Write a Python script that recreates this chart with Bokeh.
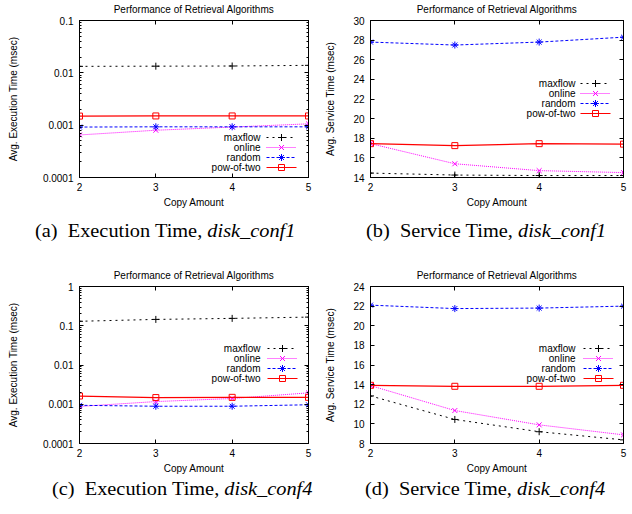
import math
from bokeh.plotting import figure
from bokeh.models import (Range1d, FixedTicker, LinearAxis, LogAxis,
                          LinearScale, Div)
from bokeh.layouts import column, row
from bokeh.core.properties import value
from bokeh.embed import file_html
from bokeh.resources import INLINE

# ---------------- data ----------------
copies = [2, 3, 4, 5]
x_ticks = [2, 3, 4, 5]
series_names = ["maxflow", "online", "random", "pow-of-two"]

# (a) execution time, disk_conf1 (msec, log scale)
exec1_maxflow = [0.0133, 0.0134, 0.0135, 0.0139]
exec1_online = [0.00065, 0.00080, 0.00092, 0.00106]
exec1_random = [0.00092, 0.00093, 0.00093, 0.00093]
exec1_pow2 = [0.00149, 0.00150, 0.00150, 0.00150]

# (b) service time, disk_conf1 (msec)
serv1_maxflow = [14.45, 14.25, 14.2, 14.2]
serv1_online = [17.45, 15.4, 14.7, 14.5]
serv1_random = [27.8, 27.5, 27.8, 28.3]
serv1_pow2 = [17.45, 17.25, 17.45, 17.4]

# (c) execution time, disk_conf4 (msec, log scale)
exec4_maxflow = [0.13, 0.145, 0.154, 0.166]
exec4_online = [0.00088, 0.00117, 0.0014, 0.00195]
exec4_random = [0.00094, 0.00089, 0.00089, 0.00097]
exec4_pow2 = [0.00162, 0.00148, 0.00150, 0.00150]

# (d) service time, disk_conf4 (msec)
serv4_maxflow = [12.85, 10.45, 9.2, 8.37]
serv4_online = [13.9, 11.36, 9.9, 8.88]
serv4_random = [22.1, 21.75, 21.8, 22.0]
serv4_pow2 = [13.93, 13.83, 13.83, 13.93]

chart_title = "Performance of Retrieval Algorithms"
x_label = "Copy Amount"
exec_label = "Avg. Execution Time (msec)"
serv_label = "Avg. Service Time (msec)"

ticks_a = [0.0001, 0.001, 0.01, 0.1]
tick_labels_a = ["0.0001", "0.001", "0.01", "0.1"]
ticks_c = [0.0001, 0.001, 0.01, 0.1, 1]
tick_labels_c = ["0.0001", "0.001", "0.01", "0.1", "1"]
ticks_b = [14, 16, 18, 20, 22, 24, 26, 28, 30]
ticks_d = [8, 10, 12, 14, 16, 18, 20, 22, 24]

caption_letters = ["a", "b", "c", "d"]
caption_kinds = ["Execution Time", "Service Time", "Execution Time", "Service Time"]
caption_confs = ["disk_conf1", "disk_conf1", "disk_conf4", "disk_conf4"]

# ---------------- styles ----------------
FONT = "Liberation Sans"
STYLE = {
    "maxflow": dict(color="#000000", dash="2 4", marker="cross", lw=1, size=7),
    "online": dict(color="#ff00ff", dash="1 1", marker="x", lw=1, size=7),
    "random": dict(color="#0000ff", dash="3 2", marker="asterisk", lw=1, size=7),
    "pow-of-two": dict(color="#ff0000", dash="solid", marker="square", lw=1.2, size=6),
}

FRAME_H = 157


def minor_log(lo_exp, hi_exp):
    out = []
    for e in range(lo_exp, hi_exp):
        for k in range(2, 10):
            out.append(k * 10.0 ** e)
    return out


def style_axis(ax, labels=True):
    ax.axis_line_color = "black"
    ax.major_tick_in = 4
    ax.major_tick_out = 0
    ax.minor_tick_in = 2
    ax.minor_tick_out = 0
    ax.major_tick_line_color = "black"
    ax.minor_tick_line_color = "black"
    ax.major_label_text_font = FONT
    ax.axis_label_text_font = FONT
    ax.axis_label_text_font_style = "normal"
    ax.axis_label_text_font_size = "10px"
    ax.axis_label_text_color = "black"
    if labels:
        ax.major_label_text_font_size = "10px"
        ax.major_label_text_color = "black"
    else:
        ax.major_label_text_font_size = "1px"
        ax.major_label_text_color = None
        ax.major_label_standoff = 0


def make_panel(series, log, ylo, yhi, yticks, ytick_labels, ylabel, width, bl, br,
               sample_x, text_x, rows_y):
    kw = dict(y_axis_type="log") if log else {}
    frame_w = width - bl - br
    p = figure(width=width, height=213, x_range=Range1d(2, 5), y_range=Range1d(ylo, yhi),
               output_backend="svg", toolbar_location=None,
               min_border_left=bl, min_border_right=br, min_border_top=20,
               min_border_bottom=36, **kw)
    p.background_fill_color = "white"
    p.border_fill_color = "white"
    p.outline_line_color = "black"
    p.outline_line_width = 1
    p.xgrid.grid_line_color = None
    p.ygrid.grid_line_color = None

    if log:
        lo_e = int(round(math.log10(ylo)))
        hi_e = int(round(math.log10(yhi)))
        yticker = FixedTicker(ticks=yticks, minor_ticks=minor_log(lo_e, hi_e))
    else:
        yticker = FixedTicker(ticks=yticks)
    xticker = FixedTicker(ticks=x_ticks)

    p.xaxis.ticker = xticker
    p.yaxis.ticker = yticker
    if ytick_labels is not None:
        p.yaxis.major_label_overrides = dict(zip(yticks, ytick_labels))
    style_axis(p.xaxis[0])
    style_axis(p.yaxis[0])
    p.xaxis.axis_label = x_label
    p.yaxis.axis_label = ylabel
    p.xaxis.major_label_standoff = 5
    p.xaxis.axis_label_standoff = 3
    p.yaxis.major_label_standoff = 6
    p.yaxis.axis_label_standoff = 21 if log else 14

    AxisCls = LogAxis if log else LinearAxis
    right = AxisCls(ticker=yticker)
    style_axis(right, labels=False)
    p.add_layout(right, "right")
    # mirrored top axis; it also carries the chart title, centred over the frame
    top = LinearAxis(ticker=xticker, axis_label=chart_title)
    style_axis(top, labels=False)
    top.axis_label_standoff = 6
    p.add_layout(top, "above")

    # pixel-unit ranges for the key drawn inside the frame
    p.extra_x_ranges = {"px": Range1d(0, frame_w)}
    p.extra_y_ranges = {"px": Range1d(0, FRAME_H)}
    p.extra_x_scales = {"px": LinearScale()}
    p.extra_y_scales = {"px": LinearScale()}

    for name, ys, ry in zip(series_names, series, rows_y):
        s = STYLE[name]
        p.line(copies, ys, line_color=s["color"], line_width=s["lw"],
               line_dash=s["dash"])
        p.scatter(copies, ys, marker=s["marker"], size=s["size"],
                  line_color=s["color"], fill_color=None, line_width=1)
        # key entry: text on the left, line sample with marker on the right
        p.line([sample_x, sample_x + 30], [ry, ry], line_color=s["color"],
               line_width=s["lw"], line_dash=s["dash"],
               x_range_name="px", y_range_name="px")
        p.scatter([sample_x + 15], [ry], marker=s["marker"], size=s["size"],
                  line_color=s["color"], fill_color=None, line_width=1,
                  x_range_name="px", y_range_name="px")
        p.text([text_x], [ry], text=[name], text_align="right", text_baseline="middle",
               text_font=value(FONT), text_font_size="10px", text_color="black",
               x_range_name="px", y_range_name="px")
    return p


pA = make_panel([exec1_maxflow, exec1_online, exec1_random, exec1_pow2], True,
                0.0001, 0.1, ticks_a, tick_labels_a, exec_label, 316, 79, 8,
                187, 181, [40, 30, 20, 10])
pB = make_panel([serv1_maxflow, serv1_online, serv1_random, serv1_pow2], False,
                14, 30, ticks_b, None, serv_label, 316, 54, 9,
                210, 205, [94, 84, 74, 64])
pC = make_panel([exec4_maxflow, exec4_online, exec4_random, exec4_pow2], True,
                0.0001, 1, ticks_c, tick_labels_c, exec_label, 316, 79, 8,
                188, 181, [95, 85, 75, 65])
pD = make_panel([serv4_maxflow, serv4_online, serv4_random, serv4_pow2], False,
                8, 24, ticks_d, None, serv_label, 316, 54, 9,
                213, 205, [95, 85, 75, 65])


def caption(i, width, height, pad_left, pad_top):
    html = ('<div style="padding-left:%dpx;padding-top:%dpx;white-space:nowrap;">'
            '<span style="display:inline-block;font-family:\'Liberation Serif\';'
            'font-size:18px;line-height:20px;color:black;transform:scaleX(1.13);'
            'transform-origin:0 0;">(%s)&ensp;%s, <i>%s</i></span></div>'
            % (pad_left, pad_top, caption_letters[i], caption_kinds[i], caption_confs[i]))
    return Div(text=html, width=width, height=height, margin=0)


capA = caption(0, 316, 53, 35, 8)
capB = caption(1, 316, 53, 50, 8)
capC = caption(2, 316, 30, 52, 0)
capD = caption(3, 316, 30, 49, 0)

layout = column(row(pA, pB, spacing=0), row(capA, capB, spacing=0),
                row(pC, pD, spacing=0), row(capC, capD, spacing=0), spacing=0)

open("out.html", "w").write(file_html(layout, INLINE))
